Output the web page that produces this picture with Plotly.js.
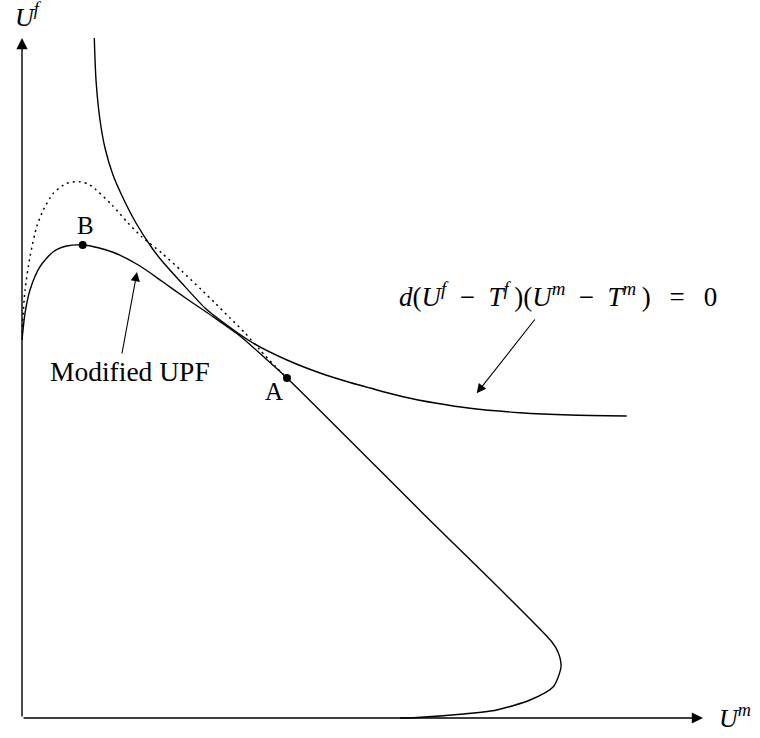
<!DOCTYPE html>
<html>
<head>
<meta charset="utf-8">
<script src="https://cdn.plot.ly/plotly-3.0.1.min.js"></script>
<style>html,body{margin:0;padding:0;background:#fff;}#chart{width:760px;height:738px;}</style>
</head>
<body>
<div id="chart"></div>
<script>
// Iso-curve d(U^f - T^f)(U^m - T^m) = 0
const isoUm = [0.723, 0.74, 0.78, 0.83, 0.91, 1.02, 1.14, 1.30, 1.40, 1.597, 1.83, 1.98, 2.31, 2.65, 2.98, 3.28, 3.48, 3.81, 4.147, 4.48, 4.98, 5.48, 6.047];
const isoUf = [6.80, 6.38, 5.98, 5.70, 5.43, 5.18, 4.95, 4.70, 4.57, 4.35, 4.10, 3.98, 3.75, 3.58, 3.45, 3.355, 3.30, 3.213, 3.147, 3.097, 3.053, 3.03, 3.02];

// Modified UPF (solid)
const upfUm = [0.00, 0.03, 0.08, 0.18, 0.313, 0.447, 0.607, 0.763, 0.93, 1.18, 1.41, 1.65, 1.90, 2.18, 2.43, 2.65, 3.98, 5.297, 5.36, 5.39, 5.313, 5.08, 4.747, 4.413, 3.913, 3.78];
const upfUf = [3.78, 4.047, 4.28, 4.513, 4.663, 4.72, 4.73, 4.703, 4.65, 4.52, 4.36, 4.19, 4.02, 3.82, 3.60, 3.40, 2.075, 0.763, 0.66, 0.513, 0.313, 0.18, 0.08, 0.04, 0.003, 0.00];

// Original UPF (dotted)
const dotUm = [0.00, 0.03, 0.08, 0.147, 0.213, 0.313, 0.447, 0.58, 0.68, 0.90, 1.06, 1.197, 1.397, 1.597, 1.797, 1.93, 2.08, 2.23, 2.38, 2.53, 2.65];
const dotUf = [3.85, 4.28, 4.613, 4.913, 5.08, 5.247, 5.347, 5.363, 5.33, 5.13, 4.95, 4.813, 4.65, 4.47, 4.28, 4.15, 4.00, 3.85, 3.68, 3.52, 3.40];

// Marked points
const pointLabels = ['A', 'B'];
const pointUm = [2.65, 0.607];
const pointUf = [3.40, 4.73];

const serif = 'Liberation Serif, DejaVu Serif, serif';
const lineStyle = {color: '#000', width: 1.4, shape: 'spline', smoothing: 0.7};

const traces = [
  {x: isoUm, y: isoUf, mode: 'lines', line: lineStyle, hoverinfo: 'skip'},
  {x: upfUm, y: upfUf, mode: 'lines', line: lineStyle, hoverinfo: 'skip'},
  {x: dotUm, y: dotUf, mode: 'lines', line: {color: '#000', width: 1.5, dash: '2px,4px', shape: 'spline', smoothing: 0.7}, hoverinfo: 'skip'},
  {x: pointUm, y: pointUf, mode: 'markers', marker: {color: '#000', size: 8}, hoverinfo: 'skip'}
];

const sp = '\u2002';
const th = '\u2009';
const ann = [];
function arrow(x, y, ax, ay, w, s) {
  ann.push({x: x, y: y, ax: ax, ay: ay, axref: 'x', ayref: 'y', xref: 'x', yref: 'y', text: '', showarrow: true, arrowhead: 2, arrowsize: s, arrowwidth: w, arrowcolor: '#000'});
}
function label(x, y, text, size) {
  ann.push({x: x, y: y, xref: 'x', yref: 'y', text: text, showarrow: false, font: {family: serif, size: size, color: '#000'}});
}
// axes as arrows
arrow(0, 6.80, 0, 0, 1.4, 1.6);
arrow(6.81, 0, 0, 0, 1.4, 1.6);
// axis labels
label(0.06, 7.03, '<i>U</i><sup><i>f</i></sup>', 26);
label(7.13, 0.02, '<i>U</i><sup><i>m</i></sup>', 26);
// point labels
label(2.52, 3.27, pointLabels[0], 25);
label(0.63, 4.93, pointLabels[1], 25);
// Modified UPF label + arrow
label(1.08, 3.47, 'Modified UPF', 27.5);
arrow(1.15, 4.46, 0.997, 3.63, 1.1, 1.7);
// iso-curve label + arrow
label(5.355, 4.23,
  '<i>d</i>(<i>U</i><sup><i>f</i></sup>' + sp + '−' + sp + '<i>T</i><sup><i>f</i></sup>' + th + ')(<i>U</i><sup><i>m</i></sup>' + sp + '−' + sp + '<i>T</i><sup><i>m</i></sup>' + th + ')' + sp + th + '=' + th + sp + '0',
  27);
arrow(4.547, 3.247, 5.14, 4.00, 1.1, 1.7);

const layout = {
  width: 760, height: 738,
  margin: {l: 0, r: 0, t: 0, b: 0},
  paper_bgcolor: '#fff', plot_bgcolor: '#fff',
  showlegend: false,
  xaxis: {range: [-0.22, 7.38], visible: false, fixedrange: true},
  yaxis: {range: [-0.20, 7.18], visible: false, fixedrange: true},
  annotations: ann
};

Plotly.newPlot('chart', traces, layout, {displayModeBar: false, staticPlot: true});
</script>
</body>
</html>
